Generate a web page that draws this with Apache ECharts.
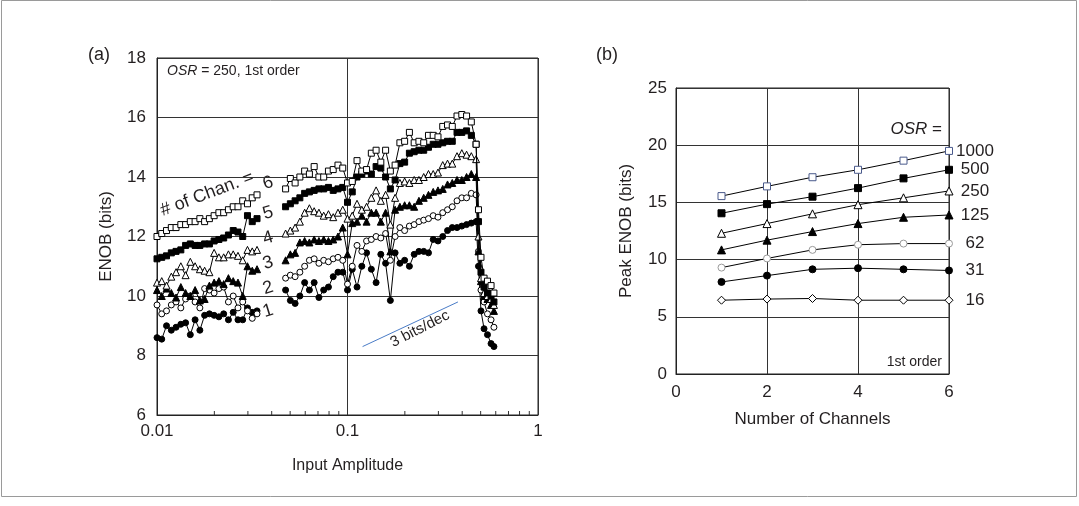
<!DOCTYPE html>
<html><head><meta charset="utf-8">
<script src="https://cdn.jsdelivr.net/npm/echarts@6/dist/echarts.min.js"></script>
<style>html,body{margin:0;padding:0;background:#fff}#c{width:1079px;height:506px}</style>
</head><body><div id="c"></div>
<script>
// ---------- Panel (a): ENOB vs input amplitude (OSR = 250, 1st order) ----------
const AMP = [0.0100,0.01059,0.01122,0.01189,0.01259,0.01334,0.01413,0.01496,0.01585,0.01679,0.01778,0.01884,0.01995,0.02113,0.02239,0.02371,0.02512,0.02661,0.02818,0.02985,0.03162,0.03350,
  0.0400,
  0.04732,0.05012,0.05309,0.05623,0.05957,0.06310,0.06683,0.07079,0.07499,0.07943,0.08414,0.08913,0.09441,0.1000,0.1059,0.1122,0.1189,0.1259,0.1334,0.1413,0.1496,0.1585,0.1679,0.1778,0.1884,0.1995,0.2113,0.2239,0.2371,0.2512,0.2661,0.2818,0.2985,0.3162,0.3350,0.3548,0.3758,0.3981,0.4217,0.4467,0.4732,
  0.487,0.502,0.521,0.543,0.567,0.587];

const CH6 = [12.0,12.1,12.2,12.3,12.3,12.4,12.4,12.5,12.5,12.6,12.5,12.6,12.7,12.8,12.8,12.9,13.0,13.0,13.2,13.1,13.3,13.4,
  null,
  13.6,13.95,13.8,14.0,14.2,14.1,14.35,14.0,14.0,14.2,14.25,14.4,14.3,13.8,13.85,14.55,14.2,14.25,14.8,14.9,14.5,14.9,14.2,14.4,15.15,15.2,15.5,15.15,15.2,15.15,15.4,15.4,15.35,15.7,15.75,15.7,16.05,16.1,16.05,15.85,15.1,
  12.9,11.3,10.6,10.5,10.35,10.1];
const CH5 = [11.25,11.3,11.35,11.45,11.5,11.55,11.7,11.75,11.7,11.7,11.75,11.75,11.85,11.9,11.95,12.05,12.2,12.15,12.0,12.7,12.5,12.6,
  null,
  13.0,13.1,13.2,13.3,13.45,13.5,13.55,13.6,13.6,13.65,13.55,13.6,13.65,13.15,13.5,14.0,14.1,14.2,14.1,14.35,14.3,14.0,13.6,13.9,14.45,14.5,14.8,14.85,14.9,14.9,15.0,15.1,15.1,15.15,15.2,15.2,15.5,15.5,15.55,15.4,15.1,
  12.5,10.8,10.3,10.1,10.0,9.8];
const CH4 = [10.45,10.5,10.35,10.65,10.8,11.0,10.7,11.15,11.0,10.9,10.85,10.8,11.45,11.3,11.3,11.4,11.4,11.35,11.2,11.55,11.5,11.55,
  null,
  12.1,12.2,12.3,12.5,12.8,12.95,12.85,12.8,12.7,12.75,12.65,12.8,12.9,12.6,12.7,13.1,12.9,13.0,13.3,13.55,13.2,13.4,12.4,13.3,13.8,13.85,13.8,13.9,13.9,14.0,14.1,14.1,14.15,14.4,14.45,14.45,14.7,14.8,14.75,14.7,14.6,
  12.0,10.6,10.1,10.0,9.9,9.7];
const CH3 = [10.2,10.0,10.25,10.1,9.95,10.3,10.1,10.0,10.2,9.85,9.9,10.35,10.45,10.5,10.4,10.6,10.5,10.45,10.0,11.0,10.85,10.9,
  null,
  11.2,11.4,11.45,11.8,11.85,11.8,11.9,11.85,11.9,11.85,11.9,12.0,12.3,11.4,12.45,12.5,12.7,12.5,12.8,12.8,12.5,12.8,11.5,12.9,13.0,13.05,13.05,13.0,13.2,13.3,13.4,13.5,13.55,13.6,13.75,13.8,13.9,13.9,14.0,14.1,14.0,
  11.5,10.5,10.0,9.9,9.7,9.5];
const CH2 = [9.7,9.4,9.5,9.7,9.8,9.6,9.9,10.0,9.8,9.6,10.25,10.2,10.1,10.25,10.3,9.8,10.0,9.6,9.8,9.5,9.25,9.4,
  null,
  10.6,10.7,10.65,10.8,11.0,11.2,11.25,11.1,11.2,11.15,11.25,11.3,11.2,10.4,11.0,11.7,11.5,11.85,11.9,12.0,11.95,12.1,11.2,12.0,12.3,12.2,12.35,12.4,12.5,12.55,12.6,12.7,12.65,12.8,12.9,13.0,13.2,13.3,13.3,13.45,13.4,
  11.5,10.2,9.8,9.4,9.2,8.95];
const CH1 = [8.6,8.55,9.0,8.85,8.95,9.05,9.1,8.7,9.2,8.85,9.35,9.4,9.35,9.3,9.4,9.2,9.45,9.2,9.2,9.6,9.45,9.5,
  null,
  10.2,9.85,9.75,10.0,10.45,10.2,10.45,9.95,10.2,10.3,10.65,10.8,10.8,10.2,10.9,10.3,11.0,11.45,10.9,10.45,11.4,11.1,9.85,11.45,11.1,11.2,11.0,11.4,11.5,11.5,11.45,11.9,11.85,12.0,12.2,12.3,12.3,12.35,12.4,12.45,12.5,
  11.0,9.5,8.9,8.7,8.4,8.3];

const SLOPE_X = [0.12, 0.38];      // 3 bits/decade guide
const SLOPE_Y = [8.3, 9.8];
const MINOR_TICKS_A = [0.02,0.03,0.04,0.05,0.06,0.07,0.08,0.09,0.2,0.3,0.4,0.5,0.6,0.7,0.8,0.9];
const CHANNEL_LABELS = ['6','5','4','3','2','1'];

// ---------- Panel (b): Peak ENOB vs number of channels ----------
const CHANNELS = [1,2,3,4,5,6];
const OSR_NAMES = ['1000','500','250','125','62','31','16'];
const P1000 = [15.55,16.4,17.2,17.85,18.65,19.5];
const P500  = [14.05,14.85,15.5,16.25,17.1,17.85];
const P250  = [12.3,13.15,14.0,14.8,15.4,16.0];
const P125  = [10.85,11.7,12.45,13.15,13.7,13.9];
const P62   = [9.3,10.1,10.85,11.3,11.4,11.4];
const P31   = [8.05,8.6,9.15,9.25,9.15,9.05];
const P16   = [6.45,6.55,6.6,6.45,6.45,6.45];

// ---------- helpers / styles ----------
const FONT = '"Liberation Sans", Arial, sans-serif';
const TXT = '#231f20';
const LINE = '#333';
const pairs = (xs, ys) => xs.map((x, i) => [x, ys[i] == null ? '-' : ys[i]]);

const seriesA = [
  {name:'1', vals:CH1, symbol:'circle', fill:'#000', size:6},
  {name:'2', vals:CH2, symbol:'circle', fill:'#fff', size:6},
  {name:'3', vals:CH3, symbol:'triangle', fill:'#000', size:7},
  {name:'4', vals:CH4, symbol:'triangle', fill:'#fff', size:7},
  {name:'5', vals:CH5, symbol:'rect', fill:'#000', size:6},
  {name:'6', vals:CH6, symbol:'rect', fill:'#fff', size:6}
].map((s, i) => ({
  type:'line', name:s.name, xAxisIndex:0, yAxisIndex:0,
  data: pairs(AMP, s.vals), connectNulls:false,
  symbol:s.symbol, symbolSize:s.size, showAllSymbol:true,
  lineStyle:{color:'#000', width:1},
  itemStyle:{color:s.fill, borderColor:'#000', borderWidth:1},
  z: 3 + i, animation:false, silent:true
}));

const seriesB = [
  {name:OSR_NAMES[0], vals:P1000, symbol:'rect', fill:'#fff', border:'#4a5a8c', size:7},
  {name:OSR_NAMES[1], vals:P500, symbol:'rect', fill:'#000', border:'#000', size:7},
  {name:OSR_NAMES[2], vals:P250, symbol:'triangle', fill:'#fff', border:'#000', size:8},
  {name:OSR_NAMES[3], vals:P125, symbol:'triangle', fill:'#000', border:'#000', size:8},
  {name:OSR_NAMES[4], vals:P62, symbol:'circle', fill:'#fff', border:'#9a9a9a', size:7},
  {name:OSR_NAMES[5], vals:P31, symbol:'circle', fill:'#000', border:'#000', size:7},
  {name:OSR_NAMES[6], vals:P16, symbol:'diamond', fill:'#fff', border:'#000', size:8}
].map(s => ({
  type:'line', name:s.name, xAxisIndex:1, yAxisIndex:1,
  data: pairs(CHANNELS, s.vals),
  symbol:s.symbol, symbolSize:s.size, showAllSymbol:true,
  lineStyle:{color:'#000', width:1},
  itemStyle:{color:s.fill, borderColor:s.border, borderWidth:1},
  endLabel:{show:true, formatter:s.name, color:TXT, fontFamily:FONT, fontSize:17, align:'center', distance:26},
  z:5, animation:false, silent:true
}));

const chart = echarts.init(document.getElementById('c'), null, {renderer:'canvas'});
const axisLineStyle = {show:true, lineStyle:{color:'#222', width:1}};
const splitStyle = {show:true, lineStyle:{color:LINE, width:1}};
const lbl = (m) => ({color:TXT, fontFamily:FONT, fontSize:17, margin:m});
const nameStyle = (fs) => ({color:TXT, fontFamily:FONT, fontSize:fs});

chart.setOption({
  backgroundColor:'#fff',
  animation:false,
  grid:[
    {left:157, top:58, width:381, height:357, show:true, borderColor:'#222', borderWidth:1, backgroundColor:'transparent'},
    {left:676, top:88, width:273, height:286, show:true, borderColor:'#222', borderWidth:1, backgroundColor:'transparent'}
  ],
  xAxis:[
    {gridIndex:0, type:'log', logBase:10, min:0.01, max:1,
     axisLine:axisLineStyle, axisTick:{show:false}, splitLine:splitStyle,
     axisLabel:lbl(8),
     name:'Input Amplitude', nameLocation:'middle', nameGap:43, nameTextStyle:nameStyle(16)},
    {gridIndex:1, type:'value', min:0, max:6, interval:2,
     axisLine:axisLineStyle, axisTick:{show:false}, splitLine:splitStyle,
     axisLabel:lbl(10),
     name:'Number of Channels', nameLocation:'middle', nameGap:37, nameTextStyle:nameStyle(17)}
  ],
  yAxis:[
    {gridIndex:0, type:'value', min:6, max:18, interval:2,
     axisLine:axisLineStyle, axisTick:{show:false}, splitLine:splitStyle,
     axisLabel:lbl(11),
     name:'ENOB (bits)', nameLocation:'middle', nameGap:42, nameRotate:90, nameTextStyle:nameStyle(17)},
    {gridIndex:1, type:'value', min:0, max:25, interval:5,
     axisLine:axisLineStyle, axisTick:{show:false}, splitLine:splitStyle,
     axisLabel:lbl(9),
     name:'Peak ENOB (bits)', nameLocation:'middle', nameGap:41, nameRotate:90, nameTextStyle:nameStyle(17)}
  ],
  series:[
    ...seriesA,
    {type:'line', xAxisIndex:0, yAxisIndex:0, data:pairs(SLOPE_X, SLOPE_Y), symbol:'none',
     lineStyle:{color:'#4a7cc7', width:1}, z:2, silent:true, animation:false},
    {type:'custom', xAxisIndex:0, yAxisIndex:0, data:MINOR_TICKS_A.map(v => [v, 6]), silent:true, z:10,
     renderItem:(params, api) => {
       const p = api.coord([api.value(0), api.value(1)]);
       return {type:'line', shape:{x1:p[0], y1:p[1], x2:p[0], y2:p[1]-4}, style:{stroke:'#333', lineWidth:1}};
     }},
    ...seriesB
  ],
  graphic:[
    {type:'rect', shape:{x:1.5, y:0.5, width:1075, height:496}, style:{fill:'none', stroke:'#9a9a9a', lineWidth:1}, silent:true},
    {type:'text', x:99, y:55, style:{text:'(a)', fill:TXT, font:'18px '+FONT, align:'center', verticalAlign:'middle'}},
    {type:'text', x:607, y:55, style:{text:'(b)', fill:TXT, font:'18px '+FONT, align:'center', verticalAlign:'middle'}},
    {type:'text', x:167, y:71, style:{text:'{i|OSR} = 250, 1st order', fill:TXT, font:'14px '+FONT, align:'left', verticalAlign:'middle',
      rich:{i:{fontStyle:'italic', fontSize:14, fontFamily:FONT, fill:TXT}}}},
    {type:'text', x:207, y:194, rotation:0.36, style:{text:'# of Chan. =', fill:TXT, font:'18px '+FONT, align:'center', verticalAlign:'middle'}},
    ...CHANNEL_LABELS.map((t, i) => ({type:'text', x:268, y:[183,213,238,263,288,311][i], rotation:0.3,
      style:{text:t, fill:TXT, font:'18px '+FONT, align:'center', verticalAlign:'middle'}})),
    {type:'text', x:420, y:329, rotation:0.47, style:{text:'3 bits/dec', fill:TXT, font:'15px '+FONT, align:'center', verticalAlign:'middle'}},
    {type:'text', x:942, y:129, style:{text:'{i|OSR} =', fill:TXT, font:'17px '+FONT, align:'right', verticalAlign:'middle',
      rich:{i:{fontStyle:'italic', fontSize:17, fontFamily:FONT, fill:TXT}}}},
    {type:'text', x:942, y:362, style:{text:'1st order', fill:TXT, font:'14px '+FONT, align:'right', verticalAlign:'middle'}}
  ]
});
</script></body></html>
